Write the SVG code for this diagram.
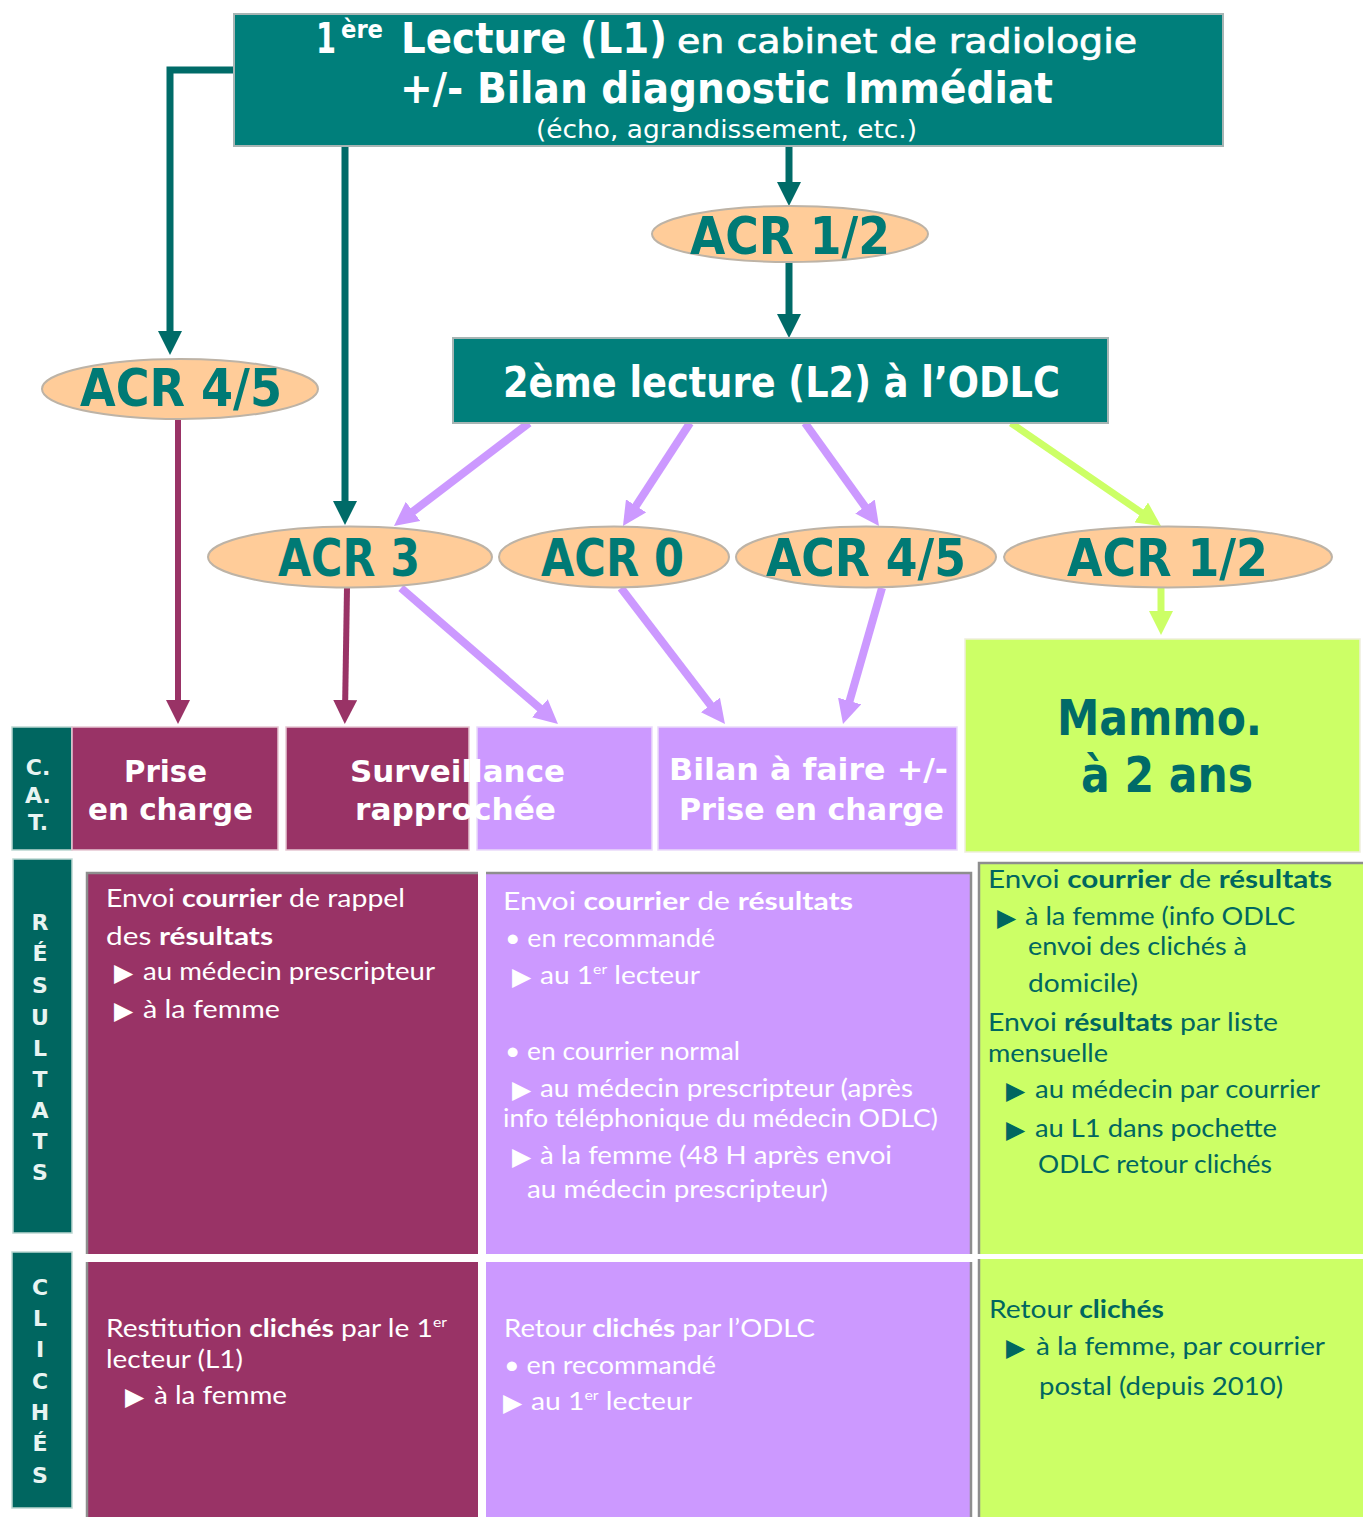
<svg xmlns="http://www.w3.org/2000/svg" width="1363" height="1517" viewBox="0 0 1363 1517">
<style>
.hd{font-family:"DejaVu Sans",sans-serif;font-weight:bold;fill:#fff}
.acr{font-family:"DejaVu Sans",sans-serif;font-weight:bold;font-size:52px;fill:#007A75}
.cat{font-family:"DejaVu Sans",sans-serif;font-weight:bold;font-size:30px;fill:#fff}
.lab{font-family:"DejaVu Sans",sans-serif;font-weight:bold;font-size:22px;fill:#E8F4F2;text-anchor:middle}
.bd{font-family:Lato,"Open Sans",sans-serif;font-size:25px}
.w{fill:#fff}
.g{fill:#006660}
.tri{font-family:"DejaVu Sans",sans-serif;font-size:25px}
.b{font-weight:bold}
.ell{fill:#FFCC99;stroke:#BDB3A6;stroke-width:2}
.teal{fill:#007F7B;stroke:#A7B5B4;stroke-width:2}
.lbl{fill:#006660;stroke:#BCD8D2;stroke-width:1.5}
.mag{fill:#993366;stroke:#E6C6D2;stroke-width:1.5}
.pur{fill:#CC99FF;stroke:#EADAFA;stroke-width:1.5}
.grn{fill:#CCFF66;stroke:#EEEEDC;stroke-width:1.5}
.edge{stroke:#8E8E8E;stroke-width:2.5;fill:none}
.ct{stroke:#006B68;stroke-width:7;fill:none}
.cm{stroke:#993366;stroke-width:6;fill:none}
.cp{stroke:#CC99FF;stroke-width:8;fill:none}
.cg{stroke:#CCFF66;stroke-width:7;fill:none}
</style>
<defs>
<marker id="aT" viewBox="0 0 10 10" refX="5" refY="5" markerWidth="24" markerHeight="24" markerUnits="userSpaceOnUse" orient="auto"><path d="M0,0 L10,5 L0,10 z" fill="#006B68"/></marker>
<marker id="aM" viewBox="0 0 10 10" refX="5" refY="5" markerWidth="24" markerHeight="24" markerUnits="userSpaceOnUse" orient="auto"><path d="M0,0 L10,5 L0,10 z" fill="#993366"/></marker>
<marker id="aP" viewBox="0 0 10 10" refX="5" refY="5" markerWidth="24" markerHeight="24" markerUnits="userSpaceOnUse" orient="auto"><path d="M0,0 L10,5 L0,10 z" fill="#CC99FF"/></marker>
<marker id="aG" viewBox="0 0 10 10" refX="5" refY="5" markerWidth="24" markerHeight="24" markerUnits="userSpaceOnUse" orient="auto"><path d="M0,0 L10,5 L0,10 z" fill="#CCFF66"/></marker>
</defs>
<rect width="1363" height="1517" fill="#fff"/>

<g id="connectors">
<path class="ct" d="M234,70 H170 V343" marker-end="url(#aT)"/>
<path class="ct" d="M345,146 V513" marker-end="url(#aT)"/>
<path class="ct" d="M789,146 V194" marker-end="url(#aT)"/>
<path class="ct" d="M789,262 V326" marker-end="url(#aT)"/>
<path class="cm" d="M178,420 V712" marker-end="url(#aM)"/>
<path class="cm" d="M347,588 L345,712" marker-end="url(#aM)"/>
<path class="cp" d="M529,423 L403.5,518.7" marker-end="url(#aP)"/>
<path class="cp" d="M690,423 L629.5,515.9" marker-end="url(#aP)"/>
<path class="cp" d="M805,423 L872,516.3" marker-end="url(#aP)"/>
<path class="cg" d="M1011,423 L1151.1,519.2" marker-end="url(#aG)"/>
<path class="cp" d="M401,588 L548.9,716.1" marker-end="url(#aP)"/>
<path class="cp" d="M621,588 L717.7,714.5" marker-end="url(#aP)"/>
<path class="cp" d="M882,588 L846.3,712.5" marker-end="url(#aP)"/>
<path class="cg" d="M1161,588 V623" marker-end="url(#aG)"/>
</g>

<g id="l1">
<rect class="teal" x="234" y="14" width="989" height="132"/>
<text class="hd" x="316" y="53" font-size="42" textLength="20" lengthAdjust="spacingAndGlyphs">1</text>
<text class="hd" x="341" y="38" font-size="24" textLength="42" lengthAdjust="spacingAndGlyphs">ère</text>
<text class="hd" x="401" y="53" font-size="42" textLength="266" lengthAdjust="spacingAndGlyphs">Lecture (L1)</text>
<text class="hd" x="677" y="53" font-size="34" stroke="#fff" stroke-width="0.7" textLength="460" lengthAdjust="spacingAndGlyphs" style="font-weight:normal">en cabinet de radiologie</text>
<text class="hd" x="400" y="103" font-size="42" textLength="653" lengthAdjust="spacingAndGlyphs">+/- Bilan diagnostic Immédiat</text>
<text class="hd" x="536" y="138" font-size="24" textLength="381" lengthAdjust="spacingAndGlyphs" style="font-weight:normal">(écho, agrandissement, etc.)</text>
</g>

<g id="acr12top">
<ellipse class="ell" cx="790" cy="234" rx="138" ry="28"/>
<text class="acr" x="690" y="254" textLength="200" lengthAdjust="spacingAndGlyphs">ACR 1/2</text>
</g>

<g id="acr45left">
<ellipse class="ell" cx="180" cy="389" rx="138" ry="30"/>
<text class="acr" x="80" y="406" textLength="202" lengthAdjust="spacingAndGlyphs">ACR 4/5</text>
</g>

<g id="l2">
<rect class="teal" x="453" y="338" width="655" height="85"/>
<text class="hd" x="503" y="397" font-size="42" textLength="557" lengthAdjust="spacingAndGlyphs">2ème lecture (L2) à l’ODLC</text>
</g>

<g id="acr3">
<ellipse class="ell" cx="350" cy="557" rx="142" ry="30.5"/>
<text class="acr" x="278" y="576" textLength="142" lengthAdjust="spacingAndGlyphs">ACR 3</text>
</g>
<g id="acr0">
<ellipse class="ell" cx="614" cy="557" rx="115" ry="30.5"/>
<text class="acr" x="541" y="576" textLength="143" lengthAdjust="spacingAndGlyphs">ACR 0</text>
</g>
<g id="acr45">
<ellipse class="ell" cx="866" cy="557" rx="130" ry="30.5"/>
<text class="acr" x="766" y="576" textLength="200" lengthAdjust="spacingAndGlyphs">ACR 4/5</text>
</g>
<g id="acr12">
<ellipse class="ell" cx="1168" cy="557" rx="164" ry="30.5"/>
<text class="acr" x="1067" y="576" textLength="201" lengthAdjust="spacingAndGlyphs">ACR 1/2</text>
</g>

<g id="cat-label">
<rect class="lbl" x="12" y="727" width="60" height="123"/>
<text class="lab" x="38" y="775">C.</text>
<text class="lab" x="38" y="803">A.</text>
<text class="lab" x="38" y="830">T.</text>
</g>

<g id="prise">
<rect class="mag" x="72" y="727" width="206" height="123"/>
<text class="cat" x="124" y="782" textLength="83" lengthAdjust="spacingAndGlyphs">Prise</text>
<text class="cat" x="88" y="820" textLength="165" lengthAdjust="spacingAndGlyphs">en charge</text>
</g>

<g id="surveillance">
<rect class="mag" x="286" y="727" width="183" height="123"/>
<rect class="pur" x="477" y="727" width="175" height="123"/>
<text class="cat" x="350" y="782" textLength="215" lengthAdjust="spacingAndGlyphs">Surveillance</text>
<text class="cat" x="355" y="820" textLength="201" lengthAdjust="spacingAndGlyphs">rapprochée</text>
</g>

<g id="bilan">
<rect class="pur" x="658" y="727" width="299" height="123"/>
<text class="cat" x="669" y="780" textLength="279" lengthAdjust="spacingAndGlyphs">Bilan à faire +/-</text>
<text class="cat" x="679" y="820" textLength="265" lengthAdjust="spacingAndGlyphs">Prise  en charge</text>
</g>

<g id="mammo">
<rect class="grn" x="965" y="639" width="395" height="213"/>
<text class="hd" x="1057" y="735" font-size="50" style="fill:#006B68" textLength="205" lengthAdjust="spacingAndGlyphs">Mammo.</text>
<text class="hd" x="1081" y="792" font-size="50" style="fill:#006B68" textLength="172" lengthAdjust="spacingAndGlyphs">à 2 ans</text>
</g>

<g id="resultats-label">
<rect class="lbl" x="13" y="859" width="59" height="374"/>
<text class="lab" x="40" y="930">R</text>
<text class="lab" x="40" y="961">É</text>
<text class="lab" x="40" y="993">S</text>
<text class="lab" x="40" y="1025">U</text>
<text class="lab" x="40" y="1056">L</text>
<text class="lab" x="40" y="1087">T</text>
<text class="lab" x="40" y="1118">A</text>
<text class="lab" x="40" y="1149">T</text>
<text class="lab" x="40" y="1180">S</text>
</g>

<g id="cliches-label">
<rect class="lbl" x="12" y="1252" width="60" height="256"/>
<text class="lab" x="40" y="1295">C</text>
<text class="lab" x="40" y="1326">L</text>
<text class="lab" x="40" y="1357">I</text>
<text class="lab" x="40" y="1389">C</text>
<text class="lab" x="40" y="1420">H</text>
<text class="lab" x="40" y="1451">É</text>
<text class="lab" x="40" y="1483">S</text>
</g>

<g id="res-mag">
<rect x="86" y="872" width="392" height="382" fill="#993366"/>
<path class="edge" d="M87,1254 V873 H478"/>
<text class="bd w" x="106" y="907" textLength="299" lengthAdjust="spacingAndGlyphs">Envoi <tspan class="b">courrier</tspan> de rappel</text>
<text class="bd w" x="106" y="945" textLength="167" lengthAdjust="spacingAndGlyphs">des <tspan class="b">résultats</tspan></text>
<text class="tri w" x="114" y="981">▶</text>
<text class="bd w" x="143" y="980" textLength="292" lengthAdjust="spacingAndGlyphs">au médecin prescripteur</text>
<text class="tri w" x="114" y="1019">▶</text>
<text class="bd w" x="143" y="1018" textLength="137" lengthAdjust="spacingAndGlyphs">à la femme</text>
</g>

<g id="res-pur">
<rect x="486" y="872" width="486" height="382" fill="#CC99FF"/>
<path class="edge" d="M486,873 H971 V1254"/>
<text class="bd w" x="503" y="910" textLength="350" lengthAdjust="spacingAndGlyphs">Envoi <tspan class="b">courrier</tspan> de <tspan class="b">résultats</tspan></text>
<text class="bd w" x="505" y="947" textLength="210" lengthAdjust="spacingAndGlyphs">• en recommandé</text>
<text class="tri w" x="512" y="985">▶</text>
<text class="bd w" x="540" y="984" textLength="160" lengthAdjust="spacingAndGlyphs">au 1<tspan font-size="14" dy="-10">er</tspan><tspan dy="10"> lecteur</tspan></text>
<text class="bd w" x="505" y="1060" textLength="235" lengthAdjust="spacingAndGlyphs">• en courrier normal</text>
<text class="tri w" x="512" y="1098">▶</text>
<text class="bd w" x="540" y="1097" textLength="373" lengthAdjust="spacingAndGlyphs">au médecin prescripteur (après</text>
<text class="bd w" x="503" y="1127" textLength="435" lengthAdjust="spacingAndGlyphs">info téléphonique du médecin ODLC)</text>
<text class="tri w" x="512" y="1165">▶</text>
<text class="bd w" x="540" y="1164" textLength="352" lengthAdjust="spacingAndGlyphs">à la femme (48 H après envoi</text>
<text class="bd w" x="527" y="1198" textLength="301" lengthAdjust="spacingAndGlyphs">au médecin prescripteur)</text>
</g>

<g id="res-grn">
<rect x="978" y="862" width="385" height="392" fill="#CCFF66"/>
<path class="edge" d="M979,1254 V863 H1363"/>
<text class="bd g" x="988" y="888" textLength="344" lengthAdjust="spacingAndGlyphs">Envoi <tspan class="b">courrier</tspan> de <tspan class="b">résultats</tspan></text>
<text class="tri g" x="997" y="926">▶</text>
<text class="bd g" x="1025" y="925" textLength="270" lengthAdjust="spacingAndGlyphs">à la femme (info ODLC</text>
<text class="bd g" x="1028" y="955" textLength="219" lengthAdjust="spacingAndGlyphs">envoi des clichés à</text>
<text class="bd g" x="1028" y="992" textLength="110" lengthAdjust="spacingAndGlyphs">domicile)</text>
<text class="bd g" x="988" y="1031" textLength="290" lengthAdjust="spacingAndGlyphs">Envoi <tspan class="b">résultats</tspan> par liste</text>
<text class="bd g" x="988" y="1062" textLength="120" lengthAdjust="spacingAndGlyphs">mensuelle</text>
<text class="tri g" x="1006" y="1099">▶</text>
<text class="bd g" x="1035" y="1098" textLength="285" lengthAdjust="spacingAndGlyphs">au médecin par courrier</text>
<text class="tri g" x="1006" y="1138">▶</text>
<text class="bd g" x="1035" y="1137" textLength="242" lengthAdjust="spacingAndGlyphs">au L1 dans pochette</text>
<text class="bd g" x="1038" y="1173" textLength="234" lengthAdjust="spacingAndGlyphs">ODLC retour clichés</text>
</g>

<g id="cli-mag">
<rect x="86" y="1262" width="392" height="255" fill="#993366"/>
<path class="edge" d="M87,1517 V1262"/>
<text class="bd w" x="106" y="1337" textLength="341" lengthAdjust="spacingAndGlyphs">Restitution <tspan class="b">clichés</tspan> par le 1<tspan font-size="14" dy="-10">er</tspan></text>
<text class="bd w" x="106" y="1368" textLength="137" lengthAdjust="spacingAndGlyphs">lecteur (L1)</text>
<text class="tri w" x="125" y="1405">▶</text>
<text class="bd w" x="154" y="1404" textLength="133" lengthAdjust="spacingAndGlyphs">à la femme</text>
</g>

<g id="cli-pur">
<rect x="486" y="1262" width="486" height="255" fill="#CC99FF"/>
<path class="edge" d="M971,1262 V1517"/>
<text class="bd w" x="504" y="1337" textLength="311" lengthAdjust="spacingAndGlyphs">Retour <tspan class="b">clichés</tspan> par l’ODLC</text>
<text class="bd w" x="504" y="1374" textLength="212" lengthAdjust="spacingAndGlyphs">• en recommandé</text>
<text class="tri w" x="503" y="1411">▶</text>
<text class="bd w" x="531" y="1410" textLength="161" lengthAdjust="spacingAndGlyphs">au 1<tspan font-size="14" dy="-10">er</tspan><tspan dy="10"> lecteur</tspan></text>
</g>

<g id="cli-grn">
<rect x="978" y="1259" width="385" height="258" fill="#CCFF66"/>
<path class="edge" d="M979,1259 V1517"/>
<text class="bd g" x="989" y="1318" textLength="175" lengthAdjust="spacingAndGlyphs">Retour <tspan class="b">clichés</tspan></text>
<text class="tri g" x="1006" y="1356">▶</text>
<text class="bd g" x="1036" y="1355" textLength="289" lengthAdjust="spacingAndGlyphs">à la femme, par courrier</text>
<text class="bd g" x="1039" y="1395" textLength="244" lengthAdjust="spacingAndGlyphs">postal (depuis 2010)</text>
</g>
</svg>
